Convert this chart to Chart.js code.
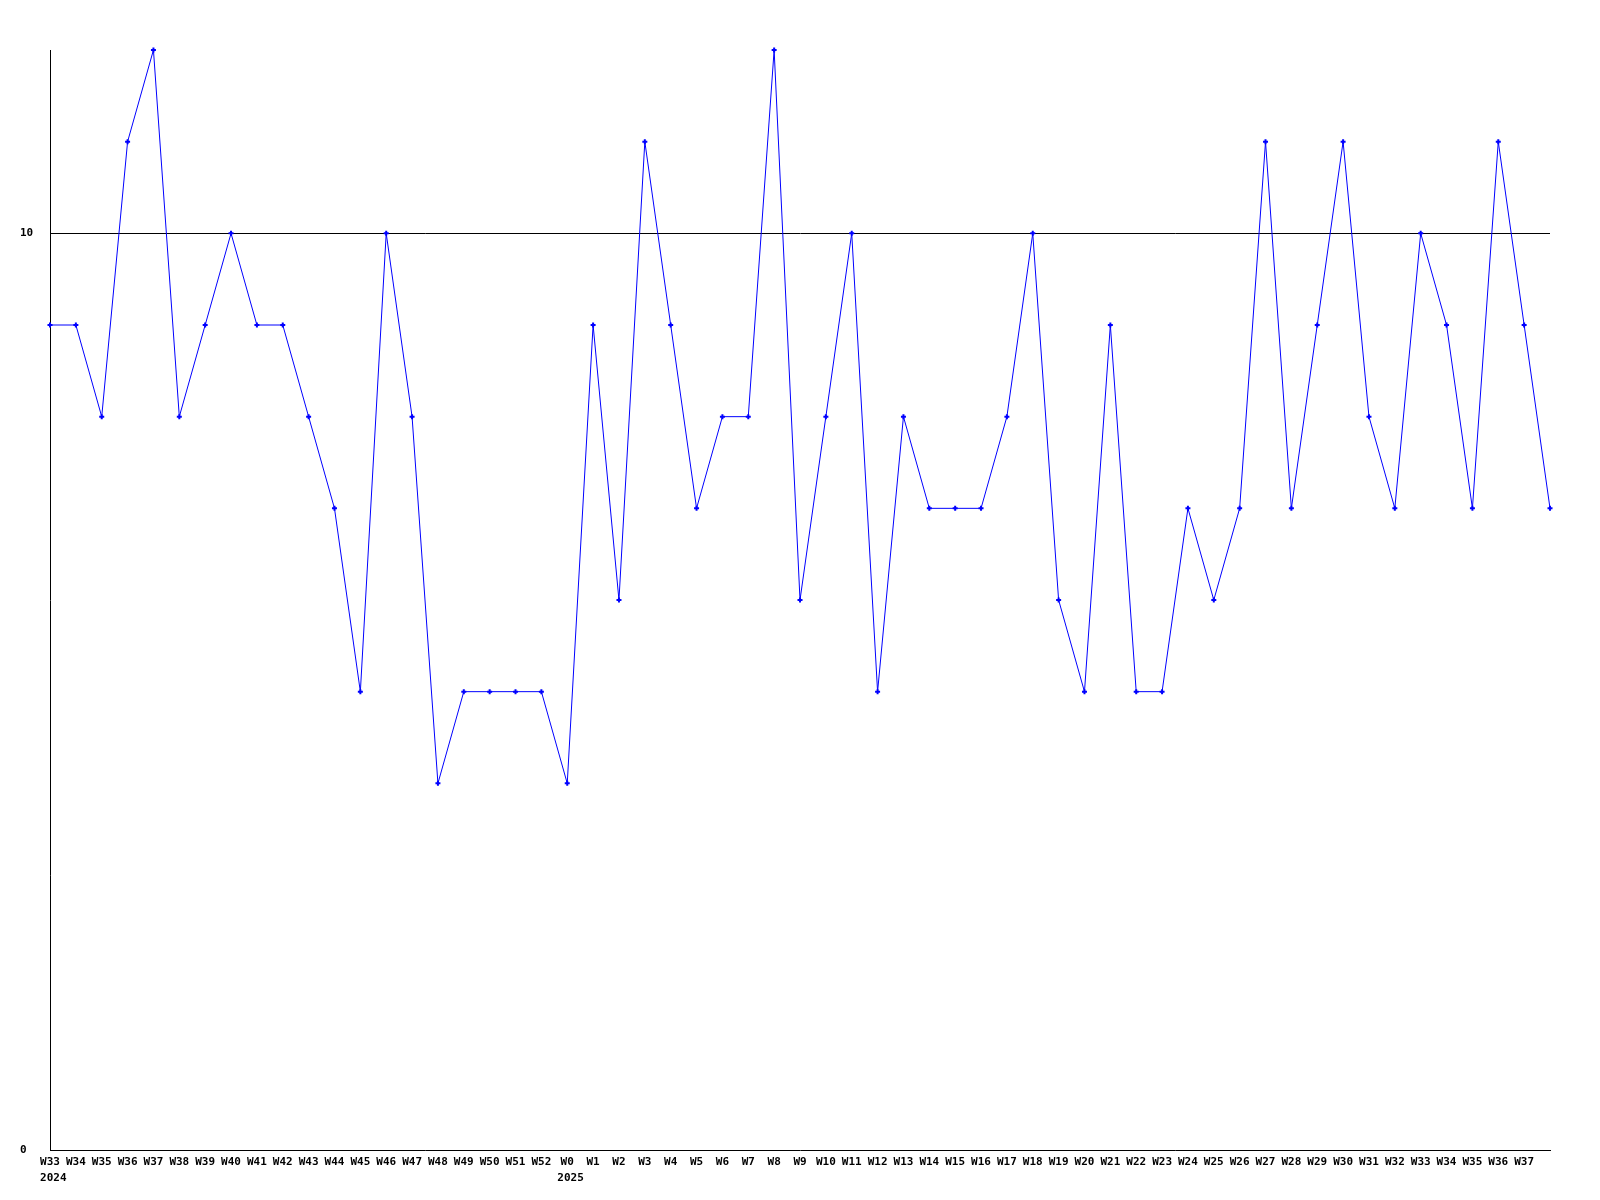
<!DOCTYPE html>
<html lang="en">
<head>
  <meta charset="UTF-8">
  <title>Weekly count</title>
  <script src="https://cdn.jsdelivr.net/npm/chart.js"></script>
  <style>
    body {
      margin: 0;
      background: #ffffff;
    }
    #wrap {
      width: 1600px;
      height: 1200px;
    }
  </style>
</head>
<body>
  <div id="wrap"><canvas id="weekChart" width="1600" height="1200"></canvas></div>

  <script>
    // weeks, 2024 W33 .. 2025 W37 plus one trailing point
    const weeks2024 = ['W33', 'W34', 'W35', 'W36', 'W37', 'W38', 'W39', 'W40', 'W41', 'W42',
      'W43', 'W44', 'W45', 'W46', 'W47', 'W48', 'W49', 'W50', 'W51', 'W52'];
    const weeks2025 = ['W0', 'W1', 'W2', 'W3', 'W4', 'W5', 'W6', 'W7', 'W8', 'W9', 'W10',
      'W11', 'W12', 'W13', 'W14', 'W15', 'W16', 'W17', 'W18', 'W19', 'W20', 'W21', 'W22',
      'W23', 'W24', 'W25', 'W26', 'W27', 'W28', 'W29', 'W30', 'W31', 'W32', 'W33', 'W34',
      'W35', 'W36', 'W37', ''];
    const counts = [9, 9, 8, 11, 12, 8, 9, 10, 9, 9, 8, 7, 5, 10, 8, 4, 5, 5, 5, 5,
      4, 9, 6, 11, 9, 7, 8, 8, 12, 6, 8, 10, 5, 8, 7, 7, 7, 8, 10, 6, 5, 9, 5, 5,
      7, 6, 7, 11, 7, 9, 11, 8, 7, 10, 9, 7, 11, 9, 7];
    const yTicks = [0, 10];
    const yMax = 12;

    const labels = weeks2024.concat(weeks2025).map(function (w, i) {
      if (i === 0) return [w, ' 2024'];
      if (i === weeks2024.length) return [w, ' 2025'];
      return w;
    });

    const font = { family: "'DejaVu Sans Mono', monospace", size: 11, weight: 'bold', lineHeight: 1.45 };

    new Chart(document.getElementById('weekChart'), {
      type: 'line',
      data: {
        labels: labels,
        datasets: [{
          data: counts,
          borderColor: '#0000ff',
          backgroundColor: '#0000ff',
          borderWidth: 1,
          pointStyle: 'cross',
          pointRadius: 2.5,
          pointBorderWidth: 2,
          tension: 0,
          clip: false
        }]
      },
      options: {
        responsive: false,
        animation: false,
        layout: { padding: { top: 50, right: 50, left: 20, bottom: 0 } },
        plugins: {
          legend: { display: false },
          tooltip: { enabled: false }
        },
        scales: {
          x: {
            grid: { display: true, color: 'transparent', drawTicks: false, tickLength: 0 },
            border: { display: true, color: '#000000', width: 1 },
            ticks: {
              color: '#000000',
              font: font,
              padding: 4,
              maxRotation: 0,
              autoSkip: false
            },
            afterFit: function (scale) { scale.height = 50; }
          },
          y: {
            min: 0,
            max: yMax,
            afterBuildTicks: function (scale) {
              scale.ticks = yTicks.map(function (v) { return { value: v }; });
            },
            afterFit: function (scale) { scale.width = 30; },
            grid: {
              drawTicks: false,
              tickLength: 0,
              color: function (ctx) { return ctx.tick && ctx.tick.value === 10 ? '#000000' : 'transparent'; }
            },
            border: { display: true, color: '#000000', width: 1 },
            ticks: {
              color: '#000000',
              font: { family: font.family, size: font.size, weight: font.weight },
              crossAlign: 'far',
              padding: 0
            }
          }
        }
      }
    });
  </script>
</body>
</html>
